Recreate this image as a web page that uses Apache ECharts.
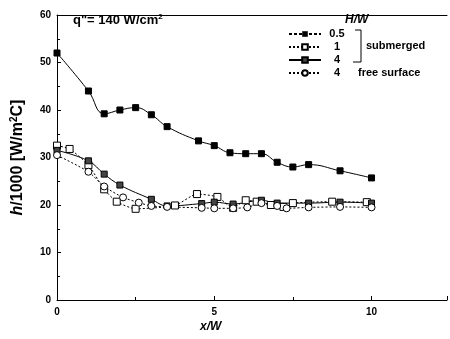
<!DOCTYPE html>
<html><head><meta charset="utf-8">
<script src="https://cdn.jsdelivr.net/npm/echarts@6/dist/echarts.min.js"></script>
<style>html,body{margin:0;padding:0;background:#fff}#c{width:450px;height:339px}</style>
</head><body><div id="c"></div>
<script>
// x/W positions and h/1000 values
var xH05 = [0, 1, 1.5, 2, 2.5, 3, 3.5, 4.5, 5, 5.5, 6, 6.5, 7, 7.5, 8, 9, 10];
var yH05 = [52, 44, 39.2, 40, 40.5, 39, 36.5, 33.5, 32.5, 31, 30.8, 30.8, 29, 28, 28.5, 27.2, 25.7];

var xH1 = [0, 0.4, 1, 1.5, 1.9, 2.5, 3.75, 4.45, 5.1, 5.6, 6, 6.35, 6.8, 7.2, 7.5, 8.75, 9.85];
var yH1 = [32.5, 31.8, 28.4, 23.3, 20.7, 19.2, 19.9, 22.3, 21.7, 19.4, 21, 20.7, 20, 19.6, 20.4, 20.7, 20.6];

var xH4 = [0, 1, 1.5, 2, 3, 3.5, 4.6, 5, 5.6, 6.5, 7, 8, 9, 10];
var yH4 = [31.5, 29.3, 26.5, 24.2, 21.2, 19.8, 20.3, 20.6, 20.2, 21, 20.4, 20.4, 20.6, 20.4];

var xH4f = [0, 1, 1.5, 2.1, 2.6, 3, 3.5, 4.6, 5, 5.6, 6.05, 6.5, 7, 7.3, 8, 9, 10];
var yH4f = [30.5, 27, 23.9, 21.6, 20.5, 19.8, 19.6, 19.4, 19.3, 19.3, 19.5, 20.4, 19.8, 19.3, 19.5, 19.6, 19.5];

var seriesNames = ['0.5', '1', '4', '4 free surface'];
var yTicks = [0, 10, 20, 30, 40, 50, 60];
var xTicks = [0, 5, 10];

function pairs(xs, ys) { return xs.map(function (x, i) { return [x, ys[i]]; }); }

var F = 'Liberation Sans, Arial, sans-serif';
var chart = echarts.init(document.getElementById('c'));
chart.setOption({
  animation: false,
  backgroundColor: '#fff',
  grid: { left: 57, right: 0, top: 15, bottom: 39 },
  xAxis: [{
    type: 'value', min: 0, max: 12.4, interval: 5,
    axisLine: { lineStyle: { color: '#000', width: 1 } },
    axisTick: { inside: true, length: 4, lineStyle: { color: '#000' } },
    minorTick: { show: true, splitNumber: 2, length: 3, lineStyle: { color: '#000' } },
    splitLine: { show: false },
    axisLabel: { color: '#000', fontFamily: F, fontWeight: 'bold', fontSize: 10, margin: 7,
      formatter: function (v) { return xTicks.indexOf(v) >= 0 ? String(v) : ''; } }
  }, {
    type: 'value', position: 'top', min: 0, max: 12.4,
    axisLine: { show: true, lineStyle: { color: '#000', width: 1 } },
    axisTick: { show: false }, axisLabel: { show: false }, splitLine: { show: false }
  }],
  yAxis: {
    type: 'value', min: 0, max: 60, interval: 10,
    axisLine: { show: true, lineStyle: { color: '#000', width: 1 } },
    axisTick: { show: true, inside: true, length: 4, lineStyle: { color: '#000' } },
    minorTick: { show: true, splitNumber: 2, length: 3, lineStyle: { color: '#000' } },
    splitLine: { show: false },
    axisLabel: { color: '#000', fontFamily: F, fontWeight: 'bold', fontSize: 10, margin: 6,
      formatter: function (v) { return yTicks.indexOf(v) >= 0 ? String(v) : ''; } },
    name: '{i|h}{n|/1000 [W/m}{s|2}{n|C]}', nameLocation: 'middle', nameGap: 30, nameRotate: 90,
    nameTextStyle: { color: '#000', fontFamily: F, fontWeight: 'bold', fontSize: 16,
      rich: {
        i: { fontFamily: F, fontWeight: 'bold', fontStyle: 'italic', fontSize: 16, color: '#000' },
        n: { fontFamily: F, fontWeight: 'bold', fontSize: 16, color: '#000' },
        s: { fontFamily: F, fontWeight: 'bold', fontSize: 10, color: '#000', verticalAlign: 'top', padding: [0, 0, 8, 0] }
      } }
  },
  legend: {
    orient: 'vertical', left: 283, top: 23, itemWidth: 32, itemHeight: 7, itemGap: 1,
    data: [
      { name: '0.5', lineStyle: { type: [3, 2] } },
      { name: '1' },
      { name: '4' },
      { name: '4 free surface' }
    ],
    formatter: function (n) {
      if (n === '4 free surface') return '{v|4}{f|free surface}';
      return '{v|' + n + '}';
    },
    textStyle: { color: '#000', fontFamily: F, fontWeight: 'bold', fontSize: 11, lineHeight: 12,
      rich: {
        v: { width: 22, align: 'center', fontFamily: F, fontWeight: 'bold', fontSize: 11, lineHeight: 12, color: '#000' },
        f: { padding: [0, 0, 0, 10], fontFamily: F, fontWeight: 'bold', fontSize: 11, lineHeight: 12, color: '#000' }
      } }
  },
  graphic: [
    { type: 'text', left: 73, top: 13, style: { text: '{a|q"= 140 W/cm}{s|2}', fill: '#000',
      rich: {
        a: { fontFamily: F, fontWeight: 'bold', fontSize: 13, fill: '#000' },
        s: { fontFamily: F, fontWeight: 'bold', fontSize: 8, fill: '#000', verticalAlign: 'top', padding: [0, 0, 7, 0] }
      } } },
    { type: 'text', left: 345, top: 14, style: { text: 'H/W', fill: '#000', fontFamily: F, fontWeight: 'bold', fontStyle: 'italic', fontSize: 12 } },
    { type: 'polyline', shape: { points: [[355, 30], [361, 30], [361, 62], [353, 62]] }, style: { stroke: '#000', lineWidth: 1, fill: null } },
    { type: 'text', left: 366, top: 40, style: { text: 'submerged', fill: '#000', fontFamily: F, fontWeight: 'bold', fontSize: 11 } },
    { type: 'text', left: 200, top: 321, style: { text: 'x/W', fill: '#000', fontFamily: F, fontWeight: 'bold', fontStyle: 'italic', fontSize: 12 } }
  ],
  series: [
    { name: seriesNames[0], type: 'line', data: pairs(xH05, yH05), smooth: 0.45,
      symbol: 'rect', symbolSize: 6,
      itemStyle: { color: '#000', borderColor: '#000' },
      lineStyle: { color: '#000', width: 1 } },
    { name: seriesNames[1], type: 'line', data: pairs(xH1, yH1), smooth: 0.2,
      symbol: 'rect', symbolSize: 7,
      itemStyle: { color: '#fff', borderColor: '#000', borderWidth: 1 },
      lineStyle: { color: '#000', width: 1, type: [2, 2] } },
    { name: seriesNames[2], type: 'line', data: pairs(xH4, yH4), smooth: 0.4,
      symbol: 'rect', symbolSize: 6,
      itemStyle: { color: '#444', borderColor: '#000', borderWidth: 1 },
      lineStyle: { color: '#000', width: 1 } },
    { name: seriesNames[3], type: 'line', data: pairs(xH4f, yH4f), smooth: 0.2,
      symbol: 'circle', symbolSize: 7,
      itemStyle: { color: '#fff', borderColor: '#000', borderWidth: 1 },
      lineStyle: { color: '#000', width: 1, type: [2, 2] } }
  ]
});
</script></body></html>
